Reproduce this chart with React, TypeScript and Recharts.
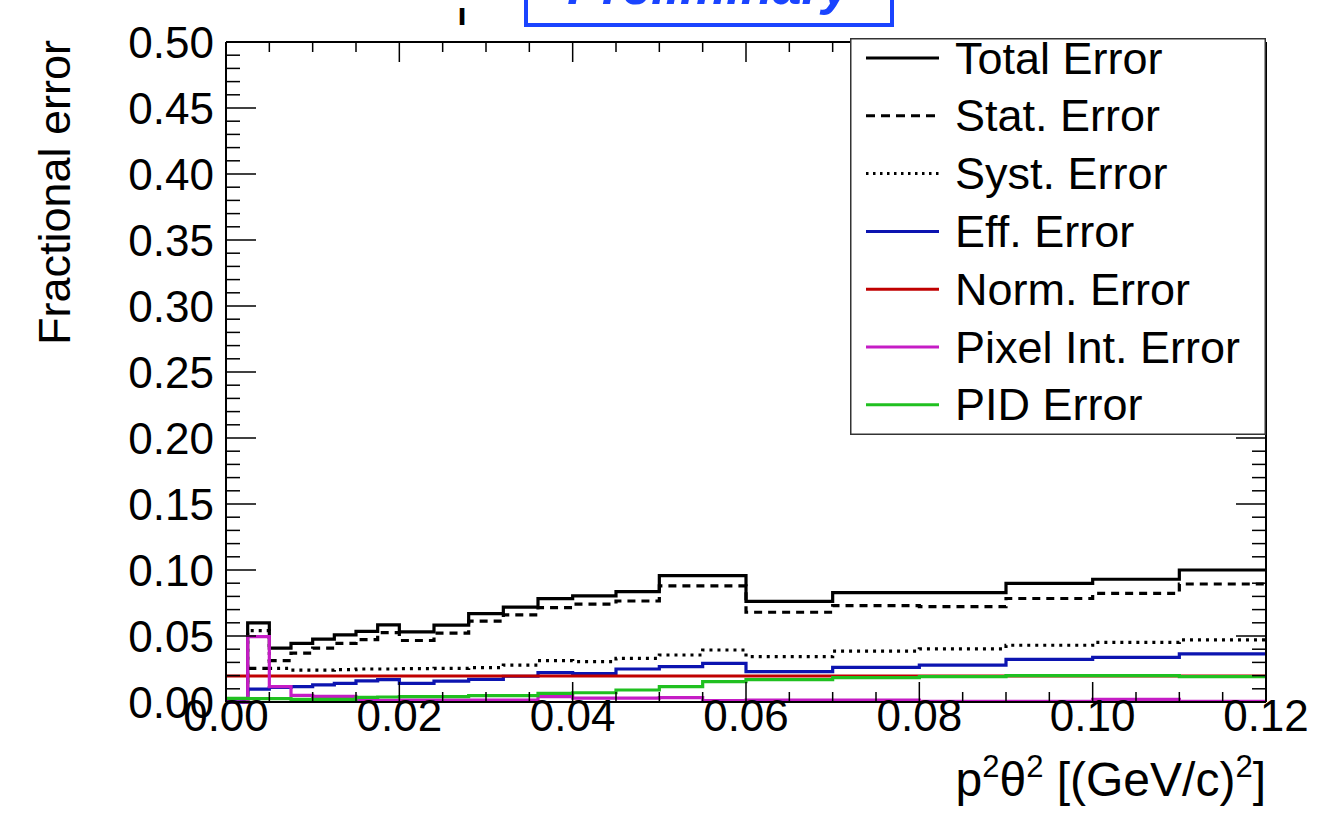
import React from 'react';
import { LineChart, Line, XAxis, YAxis, Legend } from 'recharts';

const FONT = '"Liberation Sans", Arial, Helvetica, sans-serif';

// Bin edges of the histogram (x in (GeV/c)^2)
const binEdges = [0, 0.0025, 0.005, 0.0075, 0.01, 0.0125, 0.015, 0.0175, 0.02, 0.024, 0.028, 0.032, 0.036, 0.04, 0.045, 0.05, 0.055, 0.06, 0.07, 0.08, 0.09, 0.1, 0.11, 0.12];

// Per-bin contents (23 bins)
const totalError = [0, 0.060, 0.0408, 0.0444, 0.0476, 0.0508, 0.0535, 0.0585, 0.0532, 0.0583, 0.0669, 0.0719, 0.0783, 0.0804, 0.0836, 0.0957, 0.0957, 0.0763, 0.0828, 0.0828, 0.0899, 0.0930, 0.1000];
const statError = [0, 0.0255, 0.0313, 0.0370, 0.0408, 0.0444, 0.0473, 0.0525, 0.0466, 0.0522, 0.0612, 0.0660, 0.0715, 0.0742, 0.0765, 0.0879, 0.0879, 0.0680, 0.0730, 0.0722, 0.0784, 0.0823, 0.0894];
const systError = [0, 0.0540, 0.0255, 0.0242, 0.0242, 0.0245, 0.0250, 0.0250, 0.0253, 0.0255, 0.0260, 0.0280, 0.0313, 0.0306, 0.0330, 0.0356, 0.0394, 0.0343, 0.0386, 0.0402, 0.0430, 0.0452, 0.0470];
const effError = [0, 0.0098, 0.0110, 0.0116, 0.0130, 0.0141, 0.0160, 0.0170, 0.0141, 0.0158, 0.0172, 0.0195, 0.0222, 0.0215, 0.0250, 0.0268, 0.0293, 0.0230, 0.0263, 0.0280, 0.0323, 0.0338, 0.0364];
const normError = [0.0197, 0.0197, 0.0197, 0.0197, 0.0197, 0.0197, 0.0197, 0.0197, 0.0197, 0.0197, 0.0197, 0.0197, 0.0197, 0.0197, 0.0197, 0.0197, 0.0197, 0.0197, 0.0197, 0.0197, 0.0197, 0.0197, 0.0197];
const pixelError = [0, 0.0495, 0.0116, 0.0050, 0.0042, 0.0042, 0.0012, 0.0012, 0.0015, 0.0015, 0.0015, 0.0015, 0.0040, 0.0030, 0.0030, 0.0033, 0.0010, 0.0015, 0.0015, 0.0005, 0.0005, 0.0020, 0.0005];
const pidError = [0.0028, 0.0025, 0.0025, 0.0020, 0.0020, 0.0020, 0.0035, 0.0038, 0.0040, 0.0040, 0.0048, 0.0048, 0.0066, 0.0070, 0.0091, 0.0116, 0.0154, 0.0170, 0.0184, 0.0192, 0.0200, 0.0200, 0.0192];

// Axis ticks
const xTicks = [0, 0.005, 0.01, 0.015, 0.02, 0.025, 0.03, 0.035, 0.04, 0.045, 0.05, 0.055, 0.06, 0.065, 0.07, 0.075, 0.08, 0.085, 0.09, 0.095, 0.1, 0.105, 0.11, 0.115, 0.12];
const xMajorTicks = [0, 0.02, 0.04, 0.06, 0.08, 0.1, 0.12];
const yTicks = [0, 0.01, 0.02, 0.03, 0.04, 0.05, 0.06, 0.07, 0.08, 0.09, 0.1, 0.11, 0.12, 0.13, 0.14, 0.15, 0.16, 0.17, 0.18, 0.19, 0.2, 0.21, 0.22, 0.23, 0.24, 0.25, 0.26, 0.27, 0.28, 0.29, 0.3, 0.31, 0.32, 0.33, 0.34, 0.35, 0.36, 0.37, 0.38, 0.39, 0.4, 0.41, 0.42, 0.43, 0.44, 0.45, 0.46, 0.47, 0.48, 0.49, 0.5];
const yMajorTicks = [0, 0.05, 0.1, 0.15, 0.2, 0.25, 0.3, 0.35, 0.4, 0.45, 0.5];
const xEnds = [0, 0.12];
const yEnds = [0, 0.5];

const seriesDefs = [
  { key: 'total', name: 'Total Error', values: totalError, color: '#000000', dash: undefined as string | undefined, legendDash: undefined as string | undefined },
  { key: 'stat', name: 'Stat. Error', values: statError, color: '#000000', dash: '8 6', legendDash: '9 6' },
  { key: 'syst', name: 'Syst. Error', values: systError, color: '#000000', dash: '3 5', legendDash: '2.5 4.5' },
  { key: 'eff', name: 'Eff. Error', values: effError, color: '#0c14b0', dash: undefined, legendDash: undefined },
  { key: 'norm', name: 'Norm. Error', values: normError, color: '#c00000', dash: undefined, legendDash: undefined },
  { key: 'pixel', name: 'Pixel Int. Error', values: pixelError, color: '#c51cc5', dash: undefined, legendDash: undefined },
  { key: 'pid', name: 'PID Error', values: pidError, color: '#20c020', dash: undefined, legendDash: undefined },
];

const chartData = binEdges.map((x, i) => {
  const row: Record<string, number> = { x };
  seriesDefs.forEach((s) => {
    row[s.key] = s.values[Math.min(i, s.values.length - 1)];
  });
  return row;
});

const isIn = (v: number, arr: number[]) => arr.some((m) => Math.abs(m - v) < 1e-9);

const BottomTick = (props: any) => {
  const { x, y, payload } = props;
  const major = isIn(payload.value, xMajorTicks);
  const end = isIn(payload.value, xEnds);
  return (
    <g>
      {!end && <line x1={x} x2={x} y1={y} y2={y - (major ? 20 : 10)} stroke="#000" strokeWidth={1.5} />}
      {major && (
        <text x={x} y={y + 29} textAnchor="middle" fontSize={44} fontFamily={FONT} fill="#000">
          {Number(payload.value).toFixed(2)}
        </text>
      )}
    </g>
  );
};

const TopTick = (props: any) => {
  const { x, y, payload } = props;
  if (isIn(payload.value, xEnds)) return <g />;
  const major = isIn(payload.value, xMajorTicks);
  return <line x1={x} x2={x} y1={y} y2={y + (major ? 20 : 10)} stroke="#000" strokeWidth={1.5} />;
};

const LeftTick = (props: any) => {
  const { x, y, payload } = props;
  const major = isIn(payload.value, yMajorTicks);
  const end = isIn(payload.value, yEnds);
  return (
    <g>
      {!end && <line x1={x} x2={x + (major ? 30 : 14)} y1={y} y2={y} stroke="#000" strokeWidth={1.5} />}
      {major && (
        <text x={x - 12} y={y + 16} textAnchor="end" fontSize={44} fontFamily={FONT} fill="#000">
          {Number(payload.value).toFixed(2)}
        </text>
      )}
    </g>
  );
};

const RightTick = (props: any) => {
  const { x, y, payload } = props;
  if (isIn(payload.value, yEnds)) return <g />;
  const major = isIn(payload.value, yMajorTicks);
  return <line x1={x} x2={x - (major ? 30 : 14)} y1={y} y2={y} stroke="#000" strokeWidth={1.5} />;
};

const XTitle = (props: any) => {
  const vb = props.viewBox || { x: 226, y: 702, width: 1040, height: 30 };
  const x = vb.x + vb.width;
  const y = vb.y + 94;
  return (
    <text x={x} y={y} textAnchor="end" fontSize={48} fontFamily={FONT} fill="#000">
      <tspan>p</tspan>
      <tspan dy={-19} fontSize={31}>2</tspan>
      <tspan dy={19}>θ</tspan>
      <tspan dy={-19} fontSize={31}>2</tspan>
      <tspan dy={19}> [(GeV/c)</tspan>
      <tspan dy={-19} fontSize={31}>2</tspan>
      <tspan dy={19}>]</tspan>
    </text>
  );
};

const YTitle = (props: any) => {
  const vb = props.viewBox || { x: 166, y: 42, width: 60, height: 660 };
  const bx = vb.x - 96;
  const by = vb.y - 2;
  return (
    <text x={bx} y={by} transform={`rotate(-90, ${bx}, ${by})`} textAnchor="end" fontSize={45} fontFamily={FONT} fill="#000">
      Fractional error
    </text>
  );
};

const LegendBox = () => (
  <svg width={416} height={397} style={{ display: 'block' }}>
    <rect x={0.75} y={0.75} width={414.5} height={395.5} fill="#fff" stroke="#333" strokeWidth={1.5} />
    {seriesDefs.map((s, i) => {
      const cy = 20 + i * 57.8;
      return (
        <g key={s.key}>
          <line x1={16} x2={89} y1={cy} y2={cy} stroke={s.color} strokeWidth={3} strokeDasharray={s.legendDash} />
          <text x={105} y={cy} dominantBaseline="central" fontSize={45} fontFamily={FONT} fill="#000">
            {s.name}
          </text>
        </g>
      );
    })}
  </svg>
);

const axisLineStyle = { stroke: '#000', strokeWidth: 2 };

export default function App() {
  return (
    <div style={{ position: 'absolute', left: 0, top: 0, width: 1325, height: 816, background: '#fff', overflow: 'hidden' }}>
      <LineChart width={1325} height={816} data={chartData} margin={{ top: 22, right: 39, bottom: 84, left: 166 }}>
        <XAxis
          dataKey="x"
          type="number"
          domain={[0, 0.12]}
          ticks={xTicks}
          interval={0}
          height={30}
          tick={(p: any) => <BottomTick {...p} />}
          tickLine={false}
          tickSize={0}
          tickMargin={0}
          axisLine={axisLineStyle}
          label={{ content: (p: any) => <XTitle {...p} /> }}
        />
        <XAxis
          xAxisId="top"
          dataKey="x"
          orientation="top"
          type="number"
          domain={[0, 0.12]}
          allowDataOverflow
          ticks={xTicks}
          interval={0}
          height={20}
          tick={(p: any) => <TopTick {...p} />}
          tickLine={false}
          tickSize={0}
          tickMargin={0}
          axisLine={axisLineStyle}
        />
        <YAxis
          type="number"
          domain={[0, 0.5]}
          ticks={yTicks}
          interval={0}
          width={60}
          tick={(p: any) => <LeftTick {...p} />}
          tickLine={false}
          tickSize={0}
          tickMargin={0}
          axisLine={axisLineStyle}
          label={{ content: (p: any) => <YTitle {...p} /> }}
        />
        <YAxis
          yAxisId="right"
          orientation="right"
          type="number"
          domain={[0, 0.5]}
          allowDataOverflow
          ticks={yTicks}
          interval={0}
          width={20}
          tick={(p: any) => <RightTick {...p} />}
          tickLine={false}
          tickSize={0}
          tickMargin={0}
          axisLine={axisLineStyle}
        />
        {seriesDefs.map((s) => (
          <Line
            key={s.key}
            dataKey={s.key}
            name={s.name}
            type="stepAfter"
            stroke={s.color}
            strokeWidth={3.2}
            strokeDasharray={s.dash}
            dot={false}
            activeDot={false}
            isAnimationActive={false}
          />
        ))}
        <Legend
          layout="horizontal"
          align="center"
          verticalAlign="middle"
          width={416}
          height={397}
          wrapperStyle={{ left: 850, top: 38, width: 416, height: 397 }}
          content={() => <LegendBox />}
        />
      </LineChart>
      <svg width={1325} height={60} style={{ position: 'absolute', left: 0, top: 0, pointerEvents: 'none' }}>
        <text x={462} y={21} textAnchor="middle" fontSize={18} fontWeight="bold" fontFamily={FONT} fill="#000" transform="translate(462 0) scale(2 1) translate(-462 0)">|</text>
        <rect x={526} y={-40} width={366} height={65} fill="none" stroke="#1a44ff" strokeWidth={4} />
        <text x={709} y={4} textAnchor="middle" fontSize={52} fontStyle="italic" fontWeight="bold" fontFamily={FONT} fill="#1a44ff">
          Preliminary
        </text>
      </svg>
    </div>
  );
}
